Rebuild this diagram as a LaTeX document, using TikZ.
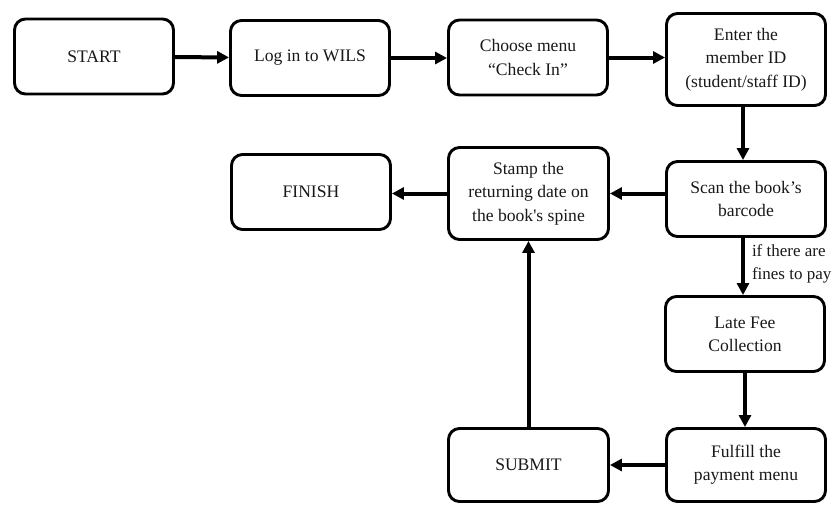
\documentclass[tikz,border=0pt]{standalone}
\usepackage{fontspec}
\setmainfont{Liberation Serif}[Ligatures=TeXOff]
\usetikzlibrary{arrows.meta}
\begin{document}
\begin{tikzpicture}[x=1pt,y=-1pt,
  stepbox/.style={draw=black, line width=2.9pt, rounded corners=11pt,
    fill=white, align=center, inner sep=0pt,
    minimum width=159pt, minimum height=75pt,
    font=\fontsize{17.6}{23.3}\selectfont, text=black!90},
  flow/.style={line width=4pt, -{Triangle[length=12pt,width=12pt]}},
  note/.style={align=left, inner sep=0pt, font=\fontsize{17}{23.5}\selectfont, text=black!90}]
  \useasboundingbox (0,0) rectangle (833,504);

  % top row
  \node[stepbox] (start)  at (94,56.5)  {START};
  \node[stepbox] (login)  at (310,58)   {Log in to WILS};
  \node[stepbox] (choose) at (528,57.5) {Choose menu\\“Check In”};
  \node[stepbox, minimum height=92pt] (enter) at (746,59.5) {Enter the\\member ID\\(student/staff ID)};

  % middle row
  \node[stepbox] (scan)   at (746,199)  {Scan the book’s\\barcode};
  \node[stepbox, minimum width=160pt, minimum height=92pt] (stamp) at (528.5,193.5) {Stamp the\\returning date on\\the book's spine};
  \node[stepbox] (finish) at (311,192)  {FINISH};

  % payment branch
  \node[stepbox] (late)    at (745,334)  {Late Fee\\Collection};
  \node[stepbox, minimum height=73pt] (fulfill) at (746,465) {Fulfill the\\payment menu};
  \node[stepbox, minimum width=160pt, minimum height=73pt] (submit) at (528.5,465) {SUBMIT};

  % connectors
  \draw[flow] (start) -- (login);
  \draw[flow] (login.east) -- (choose.west |- login.east);
  \draw[flow] (choose.east) -- (enter.west |- choose.east);
  \draw[flow] ([xshift=-3pt]enter.south) -- ([xshift=-3pt]scan.north);
  \draw[flow] (scan.west |- stamp.east) -- (stamp.east);
  \draw[flow] (stamp.west) -- (finish.east |- stamp.west);
  \draw[flow] ([xshift=-3pt]scan.south) -- ([xshift=-2pt]late.north)
    node[note, anchor=west, pos=0.45, xshift=7pt] (cond) {if there are\\fines to pay};
  \draw[flow] (late.south) -- (late.south |- fulfill.north);
  \draw[flow] (fulfill) -- (submit);
  \draw[flow] (submit) -- (stamp);
\end{tikzpicture}
\end{document}
